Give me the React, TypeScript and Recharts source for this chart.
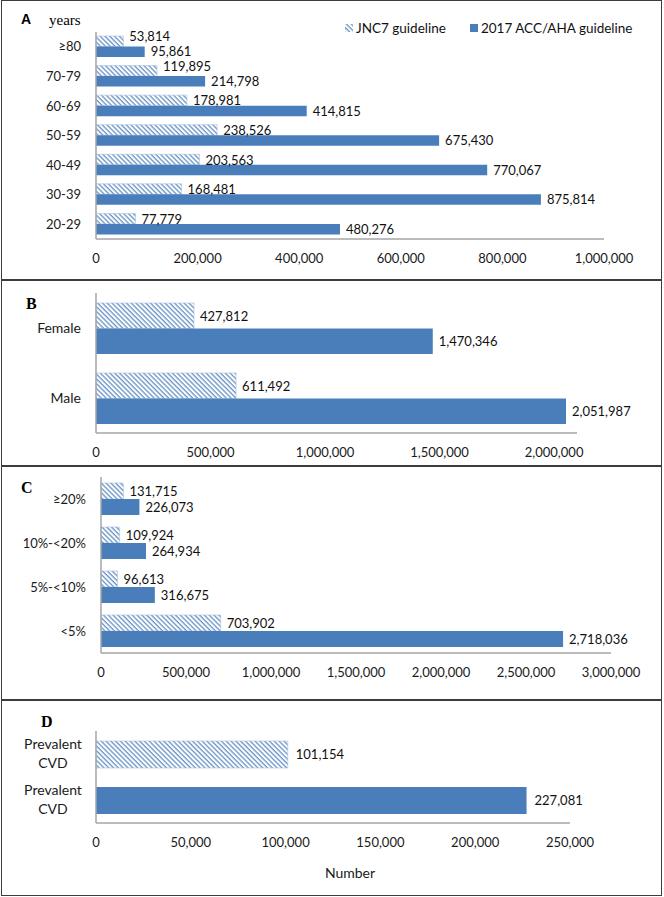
import React from 'react';
import { BarChart, Bar, XAxis, YAxis, LabelList, Cell } from 'recharts';

// Panel A - age groups (years)
const ageGroups = ['≥80', '70-79', '60-69', '50-59', '40-49', '30-39', '20-29'];
const ageJnc7 = [53814, 119895, 178981, 238526, 203563, 168481, 77779];
const ageAcc = [95861, 214798, 414815, 675430, 770067, 875814, 480276];
const ageTicks = [0, 200000, 400000, 600000, 800000, 1000000];

// Panel B - sex
const sexGroups = ['Female', 'Male'];
const sexJnc7 = [427812, 611492];
const sexAcc = [1470346, 2051987];
const sexTicks = [0, 500000, 1000000, 1500000, 2000000];

// Panel C - 10-year risk
const riskGroups = ['≥20%', '10%-<20%', '5%-<10%', '<5%'];
const riskJnc7 = [131715, 109924, 96613, 703902];
const riskAcc = [226073, 264934, 316675, 2718036];
const riskTicks = [0, 500000, 1000000, 1500000, 2000000, 2500000, 3000000];

// Panel D - prevalent CVD, one bar per guideline
const cvdGroups = ['Prevalent CVD', 'Prevalent CVD'];
const cvdValues = [101154, 227081];
const cvdTicks = [0, 50000, 100000, 150000, 200000, 250000];

const seriesNames = ['JNC7 guideline', '2017 ACC/AHA guideline'];

const FONT = 'Lato, "Liberation Sans", sans-serif';
const BLUE = '#4a7ebb';
const AXIS = '#a6a6a6';
const HATCH = 'url(#jnc7Hatch)';

const fmt = (v: any) => Number(v).toLocaleString('en-US');
const tickStyle = { fontFamily: FONT, fontSize: 13, fill: '#1a1a1a' };
const labelStyle = { fontFamily: FONT, fontSize: 13, fill: '#111' };

const ageData = ageGroups.map((name, i) => ({ name, jnc7: ageJnc7[i], acc: ageAcc[i] }));
const sexData = sexGroups.map((name, i) => ({ name, jnc7: sexJnc7[i], acc: sexAcc[i] }));
const riskData = riskGroups.map((name, i) => ({ name, jnc7: riskJnc7[i], acc: riskAcc[i] }));
const cvdData = cvdGroups.map((name, i) => ({ id: i, name, value: cvdValues[i] }));

// hatch bar label: lifted a bit when thin bars would make it run into the blue bar's label
const makeHatchLabel = (data: any[]) => (props: any) => {
  const { x, y, width, height, value } = props;
  const row = data.find((r) => r.jnc7 === value);
  const end = Number(x) + Number(width);
  const textW = fmt(value).length * 7;
  const blueEnd = row ? Number(x) + (Number(width) / value) * row.acc : Infinity;
  const lift = height < 13 && blueEnd + 6 < end + 6 + textW ? -5 : 0;
  return (
    <text x={end + 6} y={Number(y) + Number(height) / 2 + lift} dominantBaseline="central" style={labelStyle}>
      {fmt(value)}
    </text>
  );
};

interface PanelProps {
  top: number;
  height: number;
  marginTop: number;
  marginBottom: number;
  right: number;
  yWidth: number;
  data: any[];
  max: number;
  ticks: number[];
  barSize: number;
  catFontSize?: number;
}

const GroupedPanel = (p: PanelProps) => (
  <div style={{ position: 'absolute', left: 0, top: p.top }}>
    <BarChart
      width={664}
      height={p.height}
      data={p.data}
      layout="vertical"
      barGap={0}
      margin={{ top: p.marginTop, right: p.right, bottom: p.marginBottom, left: 0 }}
    >
      <XAxis
        type="number"
        domain={[0, p.max]}
        ticks={p.ticks}
        interval={0}
        tickFormatter={fmt}
        axisLine={{ stroke: AXIS, strokeWidth: 1.5 }}
        tickLine={false}
        tickSize={0}
        tickMargin={15}
        height={30}
        tick={tickStyle}
      />
      <YAxis
        type="category"
        dataKey="name"
        width={p.yWidth}
        axisLine={{ stroke: AXIS, strokeWidth: 1.5 }}
        tickLine={false}
        tickSize={0}
        tickMargin={15}
        interval={0}
        tick={{ ...tickStyle, fontSize: p.catFontSize || 13 }}
      />
      <Bar dataKey="jnc7" name={seriesNames[0]} fill={HATCH} stroke="#a9c0de" strokeWidth={0.6} barSize={p.barSize} isAnimationActive={false}>
        <LabelList dataKey="jnc7" content={makeHatchLabel(p.data)} />
      </Bar>
      <Bar dataKey="acc" name={seriesNames[1]} fill={BLUE} barSize={p.barSize} isAnimationActive={false}>
        <LabelList dataKey="acc" position="right" offset={6} formatter={fmt} style={labelStyle} />
      </Bar>
    </BarChart>
  </div>
);

const CvdTick = (props: any) => {
  const { x, y, payload } = props;
  const words = (cvdGroups[payload.value] || '').split(' ');
  const cx = x - 28;
  return (
    <text x={cx} y={y} textAnchor="middle" fontFamily={FONT} fontSize={14} fill="#1a1a1a">
      <tspan x={cx} dy={-5}>{words[0]}</tspan>
      <tspan x={cx} dy={19}>{words[1]}</tspan>
    </text>
  );
};

const hline = (top: number) => (
  <div style={{ position: 'absolute', left: 1, top, width: 661, height: 1.5, background: '#3c3c3c' }} />
);

const App = () => {
  return (
    <div style={{ position: 'absolute', left: 0, top: 0, width: 664, height: 897, background: '#fff', overflow: 'hidden' }}>
      <svg width={0} height={0} style={{ position: 'absolute' }}>
        <defs>
          <pattern id="jnc7Hatch" width={3.4} height={3.4} patternUnits="userSpaceOnUse" patternTransform="rotate(-45)">
            <rect width={3.4} height={3.4} fill="#fff" />
            <line x1={1} y1={0} x2={1} y2={3.4} stroke="#4a7ebb" strokeWidth={1.1} />
          </pattern>
        </defs>
      </svg>

      {/* frame */}
      <div style={{ position: 'absolute', left: 1, top: 0, width: 661, height: 896, border: '1.5px solid #3c3c3c', boxSizing: 'border-box' }} />
      {hline(279)}
      {hline(465)}
      {hline(699)}

      {/* A: age */}
      <GroupedPanel top={0} height={279} marginTop={32} marginBottom={10} right={60} yWidth={96}
        data={ageData} max={1000000} ticks={ageTicks} barSize={10.5} />

      {/* B: sex */}
      <GroupedPanel top={279} height={186} marginTop={14} marginBottom={2} right={87} yWidth={96}
        data={sexData} max={2100000} ticks={sexTicks} barSize={25.5} catFontSize={14} />

      {/* C: risk */}
      <GroupedPanel top={465} height={234} marginTop={12} marginBottom={16} right={53} yWidth={101}
        data={riskData} max={3000000} ticks={riskTicks} barSize={16} />

      {/* D: prevalent CVD */}
      <div style={{ position: 'absolute', left: 0, top: 699 }}>
        <BarChart
          width={664}
          height={198}
          data={cvdData}
          layout="vertical"
          margin={{ top: 32, right: 94, bottom: 14, left: 0 }}
        >
          <XAxis
            type="number"
            domain={[0, 250000]}
            ticks={cvdTicks}
            interval={0}
            tickFormatter={fmt}
            axisLine={{ stroke: AXIS, strokeWidth: 1.5 }}
            tickLine={false}
            tickSize={0}
            tickMargin={15}
            height={60}
            tick={tickStyle}
            label={{ value: 'Number', position: 'insideBottom', offset: 5, dx: 17, style: { fontFamily: FONT, fontSize: 14, fill: '#1a1a1a' } }}
          />
          <YAxis
            type="category"
            dataKey="id"
            width={96}
            axisLine={{ stroke: AXIS, strokeWidth: 1.5 }}
            tickLine={false}
            tickSize={0}
            tickMargin={15}
            interval={0}
            tick={<CvdTick />}
          />
          <Bar dataKey="value" barSize={27} isAnimationActive={false}>
            {cvdData.map((d, i) => (
              <Cell key={i} fill={i === 0 ? HATCH : BLUE} stroke={i === 0 ? '#a9c0de' : 'none'} strokeWidth={0.6} />
            ))}
            <LabelList dataKey="value" position="right" offset={8} formatter={fmt} style={labelStyle} />
          </Bar>
        </BarChart>
      </div>

      {/* legend, panel A */}
      <div style={{ position: 'absolute', top: 20, left: 345, display: 'flex', alignItems: 'center', fontFamily: FONT, fontSize: 13.5, color: '#111', whiteSpace: 'nowrap' }}>
        <svg width={8} height={8} style={{ marginRight: 3 }}>
          <rect width={8} height={8} fill={HATCH} />
        </svg>
        <span>{seriesNames[0]}</span>
        <svg width={8} height={8} style={{ marginLeft: 24, marginRight: 3 }}>
          <rect width={8} height={8} fill={BLUE} />
        </svg>
        <span>{seriesNames[1]}</span>
      </div>

      {/* panel letters */}
      <svg width={664} height={897} style={{ position: 'absolute', left: 0, top: 0, pointerEvents: 'none' }}>
        <text x={21} y={24} fontFamily='"Liberation Sans", Arial, sans-serif' fontWeight="bold" fontSize={14}>A</text>
        <text x={49} y={25} fontFamily='"Liberation Serif", serif' fontSize={15}>years</text>
        <text x={26} y={309} fontFamily='"Liberation Serif", serif' fontWeight="bold" fontSize={16}>B</text>
        <text x={21} y={493} fontFamily='"Liberation Serif", serif' fontWeight="bold" fontSize={16}>C</text>
        <text x={41} y={727} fontFamily='"Liberation Serif", serif' fontWeight="bold" fontSize={16}>D</text>
      </svg>
    </div>
  );
};

export default App;
